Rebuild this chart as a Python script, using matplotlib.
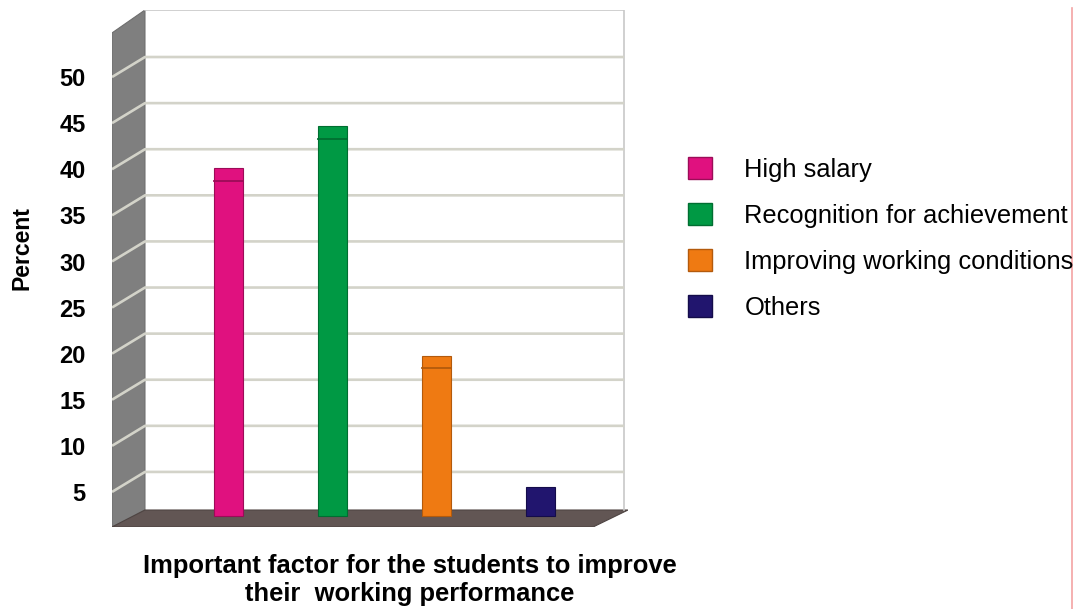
import matplotlib.pyplot as plt
from matplotlib.patches import Polygon, Patch
from matplotlib.lines import Line2D

categories = ["High salary", "Recognition for achievement",
              "Improving working conditions", "Others"]
percent = [37.7, 42.3, 17.4, 3.1]
colors = ["#e0117f", "#009944", "#ef7a12", "#21156e"]
edge_colors = ["#9c0c58", "#006e31", "#b35a0c", "#140c4a"]
yticks = [5, 10, 15, 20, 25, 30, 35, 40, 45, 50]

plt.rcParams['font.family'] = ['Liberation Sans', 'DejaVu Sans']

W, H = 1087, 609
fig = plt.figure(figsize=(W / 100, H / 100), dpi=100)
ax = fig.add_axes([112 / W, 1 - 527 / H, (628 - 112) / W, (527 - 10) / H])
ax.set_xlim(-1.12, 3.841)
ax.set_ylim(-1.193, 54.88)
for s in ax.spines.values():
    s.set_visible(False)
ax.set_xticks([])

# 3d box: side wall, floor, back wall edges
x_side, x_back, x_right = -1.12, -0.803, 3.803
y_floor_back, y_floor_front, y_top = 0.65, -1.193, 54.88
ax.add_patch(Polygon([(x_side, 52.39), (x_back, y_top), (x_back, y_floor_back),
                      (x_side, y_floor_front)], closed=True,
                     facecolor='#7f7f7f', edgecolor='#6e6e6e', lw=0.8, zorder=1))
ax.add_patch(Polygon([(x_side, y_floor_front), (x_back, y_floor_back),
                      (3.841, y_floor_back), (3.505, y_floor_front)], closed=True,
                     facecolor='#625654', edgecolor='#4e4442', lw=0.8, zorder=1))
ax.plot([x_back, x_right, x_right], [y_top, y_top, y_floor_back],
        color='#c8c8c8', lw=1.2, zorder=1)

# gridlines on back wall and side wall
for v in yticks:
    ax.plot([x_side, x_back, x_right], [v - 2.39, v - 0.22, v - 0.22],
            color='#d3d3c9', lw=1.9, solid_capstyle='butt', zorder=2)

x = list(range(len(percent)))
ax.bar(x, percent, width=0.279, color=colors, edgecolor=edge_colors,
       lw=0.8, zorder=3)
for i, v in enumerate(percent):
    if v > 10:
        ax.plot([i - 0.139, i + 0.139], [v - 1.4, v - 1.4],
                color=edge_colors[i], lw=1.3, zorder=4)

ax.set_yticks([v - 2.4 for v in yticks])
ax.set_yticklabels([str(v) for v in yticks], fontsize=17, fontweight='bold')
ax.tick_params(axis='y', length=0, pad=19)

fig.text(22 / W, 1 - 248 / H, 'Percent', rotation=90, ha='center', va='center',
         fontsize=16.6, fontweight='bold')
fig.text(410 / W, 1 - 580 / H,
         "Important factor for the students to improve\ntheir  working performance",
         ha='center', va='center', fontsize=18.4, fontweight='bold', linespacing=1.2)

handles = [Patch(facecolor=c, edgecolor=e, lw=1) for c, e in zip(colors, edge_colors)]
fig.legend(handles, categories, loc='upper left',
           bbox_to_anchor=(688 / W, 1 - 157 / H), frameon=False, fontsize=18.4,
           handlelength=0.94, handleheight=0.94, handletextpad=1.27,
           labelspacing=0.83, borderpad=0, borderaxespad=0)

fig.add_artist(Line2D([1072 / W, 1072 / W], [0, 1 - 8 / H], color='#f3a3a3', lw=1.2))

fig.savefig('out.png', dpi=100)
